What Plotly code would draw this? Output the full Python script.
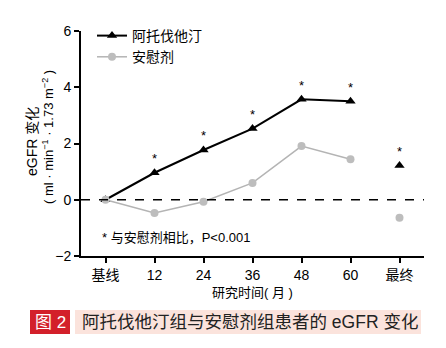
import plotly.graph_objects as go

categories = ["基线", "12", "24", "36", "48", "60", "最终"]
atorva_x = ["基线", "12", "24", "36", "48", "60"]
atorva_y = [0.0, 0.96, 1.77, 2.53, 3.57, 3.5]
atorva_final_x = ["最终"]
atorva_final_y = [1.22]
placebo_x = ["基线", "12", "24", "36", "48", "60"]
placebo_y = [0.0, -0.47, -0.07, 0.6, 1.91, 1.44]
placebo_final_x = ["最终"]
placebo_final_y = [-0.64]
star_x = ["12", "24", "36", "48", "60", "最终"]
star_y = [0.96, 1.77, 2.53, 3.57, 3.5, 1.22]
y_ticks = [-2, 0, 2, 4, 6]
y_tick_text = ["−2", "0", "2", "4", "6"]

FONT = "Liberation Sans, Arial, Noto Sans CJK SC, sans-serif"

fig = go.Figure()
fig.add_trace(go.Scatter(x=atorva_x, y=atorva_y, mode="lines+markers", name="阿托伐他汀",
                         line=dict(color="black", width=2),
                         marker=dict(symbol="triangle-up", size=9, color="black")))
fig.add_trace(go.Scatter(x=placebo_x, y=placebo_y, mode="lines+markers", name="安慰剂",
                         line=dict(color="#b4b4b4", width=1.5),
                         marker=dict(symbol="circle", size=8, color="#bdbdbd")))
fig.add_trace(go.Scatter(x=atorva_final_x, y=atorva_final_y, mode="markers", showlegend=False,
                         marker=dict(symbol="triangle-up", size=9, color="black")))
fig.add_trace(go.Scatter(x=placebo_final_x, y=placebo_final_y, mode="markers", showlegend=False,
                         marker=dict(symbol="circle", size=8, color="#bdbdbd")))

for sx, sy in zip(star_x, star_y):
    fig.add_annotation(x=categories.index(sx), y=sy, text="*", showarrow=False, yshift=14,
                       xanchor="center", yanchor="middle",
                       font=dict(size=13, color="black", family=FONT))

fig.add_hline(y=0, line=dict(color="black", width=1.3, dash="dash"))

fig.update_xaxes(type="category", categoryorder="array", categoryarray=categories,
                 range=[-0.5, 6.5], showline=True, linecolor="black", linewidth=2,
                 ticks="outside", ticklen=5, tickwidth=2, tickcolor="black",
                 showgrid=False, zeroline=False, tickfont=dict(size=14, color="black", family=FONT))
fig.update_yaxes(range=[-2, 6], tickvals=y_ticks, ticktext=y_tick_text,
                 showline=True, linecolor="black", linewidth=2,
                 ticks="outside", ticklen=5, tickwidth=2, tickcolor="black",
                 showgrid=False, zeroline=False, tickfont=dict(size=14, color="black", family=FONT))

L, R, T, B = 81, 22, 31, 92
W, H = 446, 348
pw, ph = W - L - R, H - T - B

def px(x):
    return (x - L) / pw

def py(y):
    return (H - B - y) / ph

def ann(x, y, text, size=13, color="black", xanchor="center", angle=0):
    fig.add_annotation(xref="paper", yref="paper", x=px(x), y=py(y), text=text,
                       textangle=angle, showarrow=False, xanchor=xanchor, yanchor="middle",
                       font=dict(size=size, color=color, family=FONT))

ann(32, 142, "eGFR 变化", size=14, angle=-90)
ann(48, 137, "( ml · min<sup>−1</sup> · 1.73 m<sup>−2</sup> )", size=13, angle=-90)
ann(252, 292, "研究时间( 月 )")
ann(100, 237, "* 与安慰剂相比，P<0.001", xanchor="left")

fig.add_shape(type="rect", xref="paper", yref="paper", x0=px(30), x1=px(70), y0=py(334), y1=py(310),
              fillcolor="#d3202a", line=dict(width=0), layer="below")
fig.add_shape(type="rect", xref="paper", yref="paper", x0=px(75), x1=px(421), y0=py(334), y1=py(310),
              fillcolor="#fbe3dc", line=dict(width=0), layer="below")
ann(50, 322, "图 2", size=17, color="white")
ann(80, 322, "阿托伐他汀组与安慰剂组患者的 eGFR 变化", size=17.5, color="#222222", xanchor="left")

fig.update_layout(width=W, height=H, margin=dict(l=L, r=R, t=T, b=B),
                  paper_bgcolor="white", plot_bgcolor="white",
                  legend=dict(x=px(92), y=py(20), xanchor="left", yanchor="top",
                              bgcolor="rgba(0,0,0,0)", itemwidth=30, tracegroupgap=0,
                              font=dict(size=14, color="black", family=FONT)),
                  font=dict(family=FONT))

fig.write_html("out.html")
